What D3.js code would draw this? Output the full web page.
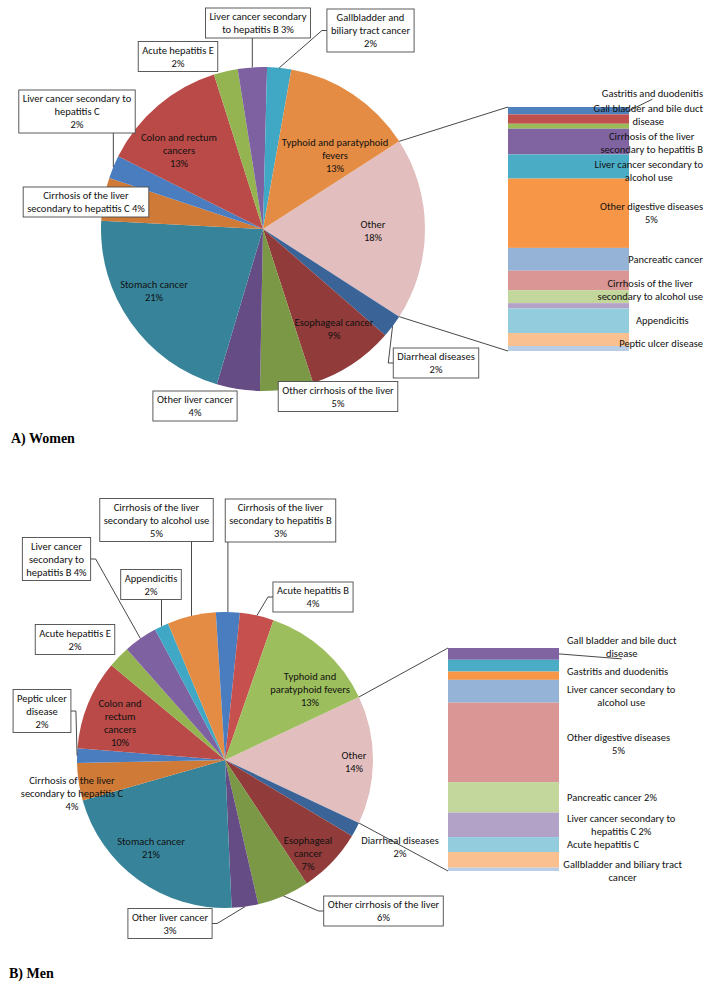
<!DOCTYPE html>
<html><head><meta charset="utf-8">
<script src="https://cdn.jsdelivr.net/npm/d3@7"></script>
<style>
body{margin:0;background:#fff;}
svg text{font-family:Carlito, Lato, "Open Sans", sans-serif; fill:#111;}
</style></head><body>
<svg id="c" width="727" height="994"></svg>
<script>
// ---------------- DATA ----------------
// Women: pie slices clockwise after "Other" ("Other" = sum of the bar breakdown)
const womenPieCategories = ["Diarrheal diseases","Esophageal cancer","Other cirrhosis of the liver","Other liver cancer","Stomach cancer","Cirrhosis of the liver secondary to hepatitis C","Liver cancer secondary to hepatitis C","Colon and rectum cancers","Acute hepatitis E","Liver cancer secondary to hepatitis B","Gallbladder and biliary tract cancer","Typhoid and paratyphoid fevers"];
const womenPieValues = [2.3, 8.6, 5.3, 4.3, 21.2, 4.3, 2.3, 12.7, 2.4, 2.9, 2.4, 13.1];
const womenPieLabels = ["Diarrheal diseases\n{p}","Esophageal cancer\n{p}","Other cirrhosis of the liver\n{p}","Other liver cancer\n{p}","Stomach cancer\n{p}","Cirrhosis of the liver\nsecondary to hepatitis C {p}","Liver cancer secondary to\nhepatitis C\n{p}","Colon and rectum\ncancers\n{p}","Acute hepatitis E\n{p}","Liver cancer secondary\nto hepatitis B {p}","Gallbladder and\nbiliary tract cancer\n{p}","Typhoid and paratyphoid\nfevers\n{p}"];
// Women: breakdown of "Other" (top to bottom)
const womenBarCategories = ["Gastritis and duodenitis","Gall bladder and bile duct disease","(unlabeled a)","Cirrhosis of the liver secondary to hepatitis B","Liver cancer secondary to alcohol use","Other digestive diseases","Pancreatic cancer","Cirrhosis of the liver secondary to alcohol use","(unlabeled b)","(unlabeled c)","Appendicitis","Peptic ulcer disease","(unlabeled d)"];
const womenBarValues = [0.55, 0.70, 0.37, 1.92, 1.80, 5.17, 1.70, 1.45, 0.97, 0.40, 1.83, 0.97, 0.37];
const womenBarLabels = ["Gastritis and duodenitis","Gall bladder and bile duct\ndisease","","Cirrhosis of the liver\nsecondary to hepatitis B","Liver cancer secondary to\nalcohol use","Other digestive diseases\n{p}","Pancreatic cancer","Cirrhosis of the liver\nsecondary to alcohol use","","","Appendicitis","Peptic ulcer disease",""];

// Men
const menPieCategories = ["Diarrheal diseases","Esophageal cancer","Other cirrhosis of the liver","Other liver cancer","Stomach cancer","Cirrhosis of the liver secondary to hepatitis C","Peptic ulcer disease","Colon and rectum cancers","Acute hepatitis E","Liver cancer secondary to hepatitis B","Appendicitis","Cirrhosis of the liver secondary to alcohol use","Cirrhosis of the liver secondary to hepatitis B","Acute hepatitis B","Typhoid and paratyphoid fevers"];
const menPieValues = [1.6, 7.1, 5.7, 2.9, 21.3, 4.1, 1.6, 9.8, 2.4, 3.7, 1.55, 5.3, 2.6, 3.7, 12.7];
const menPieLabels = ["Diarrheal diseases\n{p}","Esophageal\ncancer\n{p}","Other cirrhosis of the liver\n{p}","Other liver cancer\n{p}","Stomach cancer\n{p}","Cirrhosis of the liver\nsecondary to hepatitis C\n{p}","Peptic ulcer\ndisease\n{p}","Colon and\nrectum\ncancers\n{p}","Acute hepatitis E\n{p}","Liver cancer\nsecondary to\nhepatitis B {p}","Appendicitis\n{p}","Cirrhosis of the liver\nsecondary to alcohol use\n{p}","Cirrhosis of the liver\nsecondary to hepatitis B\n{p}","Acute hepatitis B\n{p}","Typhoid and\nparatyphoid fevers\n{p}"];
const menBarCategories = ["Gall bladder and bile duct disease","Gastritis and duodenitis","(unlabeled a)","Liver cancer secondary to alcohol use","Other digestive diseases","Pancreatic cancer","Liver cancer secondary to hepatitis C","Acute hepatitis C","Gallbladder and biliary tract cancer","(unlabeled d)"];
const menBarValues = [0.74, 0.74, 0.52, 1.43, 4.99, 1.91, 1.54, 0.94, 0.98, 0.21];
const menBarLabels = ["Gall bladder and bile duct\ndisease","Gastritis and duodenitis","","Liver cancer secondary to\nalcohol use","Other digestive diseases\n{p}","Pancreatic cancer {p}","Liver cancer secondary to\nhepatitis C {p}","Acute hepatitis C","Gallbladder and biliary tract\ncancer",""];

const otherLabel = "Other\n{p}";

// ---------------- STYLES ----------------
const womenPieColors = ["#E2BEBE","#3A6497","#913B3A","#7A9845","#664C84","#37849A","#CF7A36","#4A7DC0","#B94A47","#94B452","#7D61A0","#40A8C4","#E48C43"];
const menPieColors = ["#E2BEBE","#3A6497","#913B3A","#7A9845","#664C84","#37849A","#CF7A36","#4A7DC0","#B94A47","#94B452","#7D61A0","#40A8C4","#E48C43","#4A7DC0","#C5504D","#9DBE5C"];
const womenBarColors = ["#4F81BD","#C0504D","#9BBB59","#8064A2","#4BACC6","#F79646","#95B3D7","#D99694","#C3D69B","#B3A2C7","#93CDDD","#FAC090","#B9CDE5"];
const menBarColors = ["#8064A2","#4BACC6","#F79646","#95B3D7","#D99694","#C3D69B","#B3A2C7","#93CDDD","#FAC090","#B9CDE5"];

// ---------------- LAYOUT ----------------
// label placement relative to pie centre; index 0 = "Other"
const womenPieLayout = [
  ["in",110,1.5],["box",173,134],["in",71,99.5],["box",75,167.5],["box",-68,177],["in",-109,61.5],
  ["box",-177,-27],["box",-186,-117.5],["in",-84,-79],["box",-85,-172.5],["box",-5,-206],["box",107.5,-198.5],["in",72,-74]];
const menPieLayout = [
  ["in",129,2],["plain",175,87],["in",83,93],["box",158.5,151],["box",-55,163.5],["in",-74,88],
  ["plain",-153,33],["box",-183,-49],["in",-105,-37.5],["box",-150,-120.5],["box",-168.5,-201],["box",-74,-175.5],
  ["box",-68.5,-240],["box",55.5,-239.5],["box",88,-163],["in",85,-71]];
const womenBarNudge = [-17,-4,0,1,4.5,0,0,9,0,0,0,4,0];
const menBarNudge = [-7,6,0,5,1,0,0,0,11,0];

const FS = 10.5, LH = 13;
const svg = d3.select("#c");

function fmt(tpl, v, total){ return tpl.replace("{p}", Math.round(v/total*100) + "%"); }

function textBlock(g, lines, cx, cy){
  const n = lines.length;
  const t = g.append("g");
  let w = 0;
  lines.forEach((s,i)=>{
    const el = t.append("text").attr("x",cx).attr("y", cy + (i-(n-1)/2)*LH).attr("dy","0.35em")
      .attr("text-anchor","middle").attr("font-size",FS).text(s);
    w = Math.max(w, el.node().getComputedTextLength());
  });
  return {node:t, w, h:n*LH};
}

function drawPanel(cfg){
  const g = svg.append("g");
  const otherVal = d3.sum(cfg.barValues);
  const vals = [otherVal, ...cfg.pieValues];
  const cats = ["Other", ...cfg.pieCategories];
  const labels = [otherLabel, ...cfg.pieLabels];
  const total = d3.sum(vals);
  const a0 = Math.PI/2 - Math.PI*otherVal/total;
  const pie = d3.pie().sort(null).value(d=>d.v).startAngle(a0).endAngle(a0+2*Math.PI);
  const arcs = pie(vals.map((v,i)=>({v, c:cats[i], i})));
  const arc = d3.arc().innerRadius(0).outerRadius(cfg.r);
  const pg = g.append("g").attr("transform",`translate(${cfg.cx},${cfg.cy})`);
  pg.selectAll("path").data(arcs).join("path").attr("d",arc).attr("fill",(d,i)=>cfg.pieColors[i]);
  const pt = (a,r)=>({x:cfg.cx + r*Math.sin(a), y:cfg.cy - r*Math.cos(a)});

  // bar of "Other"
  const y = d3.scaleLinear().domain([0, otherVal]).range([cfg.barY0, cfg.barY1]);
  const x = d3.scaleLinear().domain([0,1]).range([cfg.barX0, cfg.barX1]);
  const cum = [0, ...d3.cumsum(cfg.barValues)];
  const segs = cfg.barValues.map((v,i)=>({v, y0:cum[i], y1:cum[i+1], i}));
  g.append("g").selectAll("rect").data(segs).join("rect")
    .attr("x",x(0)).attr("width",x(1)-x(0))
    .attr("y",d=>y(d.y0)).attr("height",d=>y(d.y1)-y(d.y0))
    .attr("fill",d=>cfg.barColors[d.i]);

  // connector lines
  const o = arcs[0];
  const lg = g.append("g").attr("stroke","#333").attr("stroke-width",0.9).attr("fill","none");
  const p1 = pt(o.startAngle, cfg.r), p2 = pt(o.endAngle, cfg.r);
  lg.append("line").attr("x1",p1.x).attr("y1",p1.y).attr("x2",x(0)).attr("y2",y(0));
  lg.append("line").attr("x1",p2.x).attr("y1",p2.y).attr("x2",x(0)).attr("y2",y(otherVal));

  // pie labels
  const tg = g.append("g");
  arcs.forEach((d,i)=>{
    const lay = cfg.pieLayout[i];
    const lines = fmt(labels[i], d.value, total).split("\n");
    const cx = cfg.cx + lay[1], cy = cfg.cy + lay[2];
    const b = textBlock(tg, lines, cx, cy);
    if (lay[0] === "box"){
      const padX = 4, padY = 2;
      const bx0 = cx - b.w/2 - padX, bx1 = cx + b.w/2 + padX;
      const by0 = cy - b.h/2 - padY, by1 = cy + b.h/2 + padY;
      b.node.insert("rect","text").attr("x",bx0).attr("y",by0).attr("width",bx1-bx0).attr("height",by1-by0)
        .attr("fill","#fff").attr("stroke","#4a4a4a").attr("stroke-width",0.9);
      const m = pt((d.startAngle+d.endAngle)/2, cfg.r);
      const dx = Math.max(bx0 - m.x, 0, m.x - bx1), dy = Math.max(by0 - m.y, 0, m.y - by1);
      if (Math.hypot(dx,dy) > 8){
        let pts;
        const bcy = (by0+by1)/2;
        if (m.x < bx0) pts = [[bx0,bcy],[bx0-5,bcy],[m.x,m.y]];
        else if (m.x > bx1) pts = [[bx1,bcy],[bx1+5,bcy],[m.x,m.y]];
        else if (m.y > by1) pts = [[m.x,by1],[m.x,m.y]];
        else pts = [[m.x,by0],[m.x,m.y]];
        lg.append("path").attr("d", d3.line()(pts));
      }
    }
  });

  // bar labels
  segs.forEach((s,i)=>{
    const tpl = cfg.barLabels[i];
    if (!tpl) return;
    const lines = fmt(tpl, s.v, total).split("\n");
    const cy = (y(s.y0)+y(s.y1))/2 + cfg.barNudge[i];
    const b = textBlock(tg, lines, 0, cy);
    const left = Math.min(x(1) + cfg.gap, cfg.rightLimit - b.w);
    const cx = left + b.w/2;
    b.node.selectAll("text").attr("x",cx);
    if (cfg.barLeader === i){
      lg.append("line").attr("x1",x(1)).attr("y1",(y(s.y0)+y(s.y1))/2).attr("x2",cx).attr("y2",cy + b.h/2 - 1);
    }
  });

  svg.append("text").attr("x",cfg.capX).attr("y",cfg.capY)
    .style("font-family","'Liberation Serif','Times New Roman',serif").style("font-weight","bold")
    .attr("font-size",14).style("fill","#000").text(cfg.caption);
}

drawPanel({cx:263, cy:229, r:162, pieCategories:womenPieCategories, pieValues:womenPieValues, pieLabels:womenPieLabels,
  pieColors:womenPieColors, pieLayout:womenPieLayout,
  barValues:womenBarValues, barLabels:womenBarLabels, barColors:womenBarColors, barNudge:womenBarNudge, barLeader:0,
  barX0:508, barX1:629, barY0:107, barY1:351, gap:7, rightLimit:703, caption:"A) Women", capX:11, capY:443});

drawPanel({cx:225, cy:760, r:148, pieCategories:menPieCategories, pieValues:menPieValues, pieLabels:menPieLabels,
  pieColors:menPieColors, pieLayout:menPieLayout,
  barValues:menBarValues, barLabels:menBarLabels, barColors:menBarColors, barNudge:menBarNudge, barLeader:0,
  barX0:448, barX1:559, barY0:648, barY1:871, gap:8, rightLimit:682, caption:"B) Men", capX:9, capY:978});
</script>
</body></html>
